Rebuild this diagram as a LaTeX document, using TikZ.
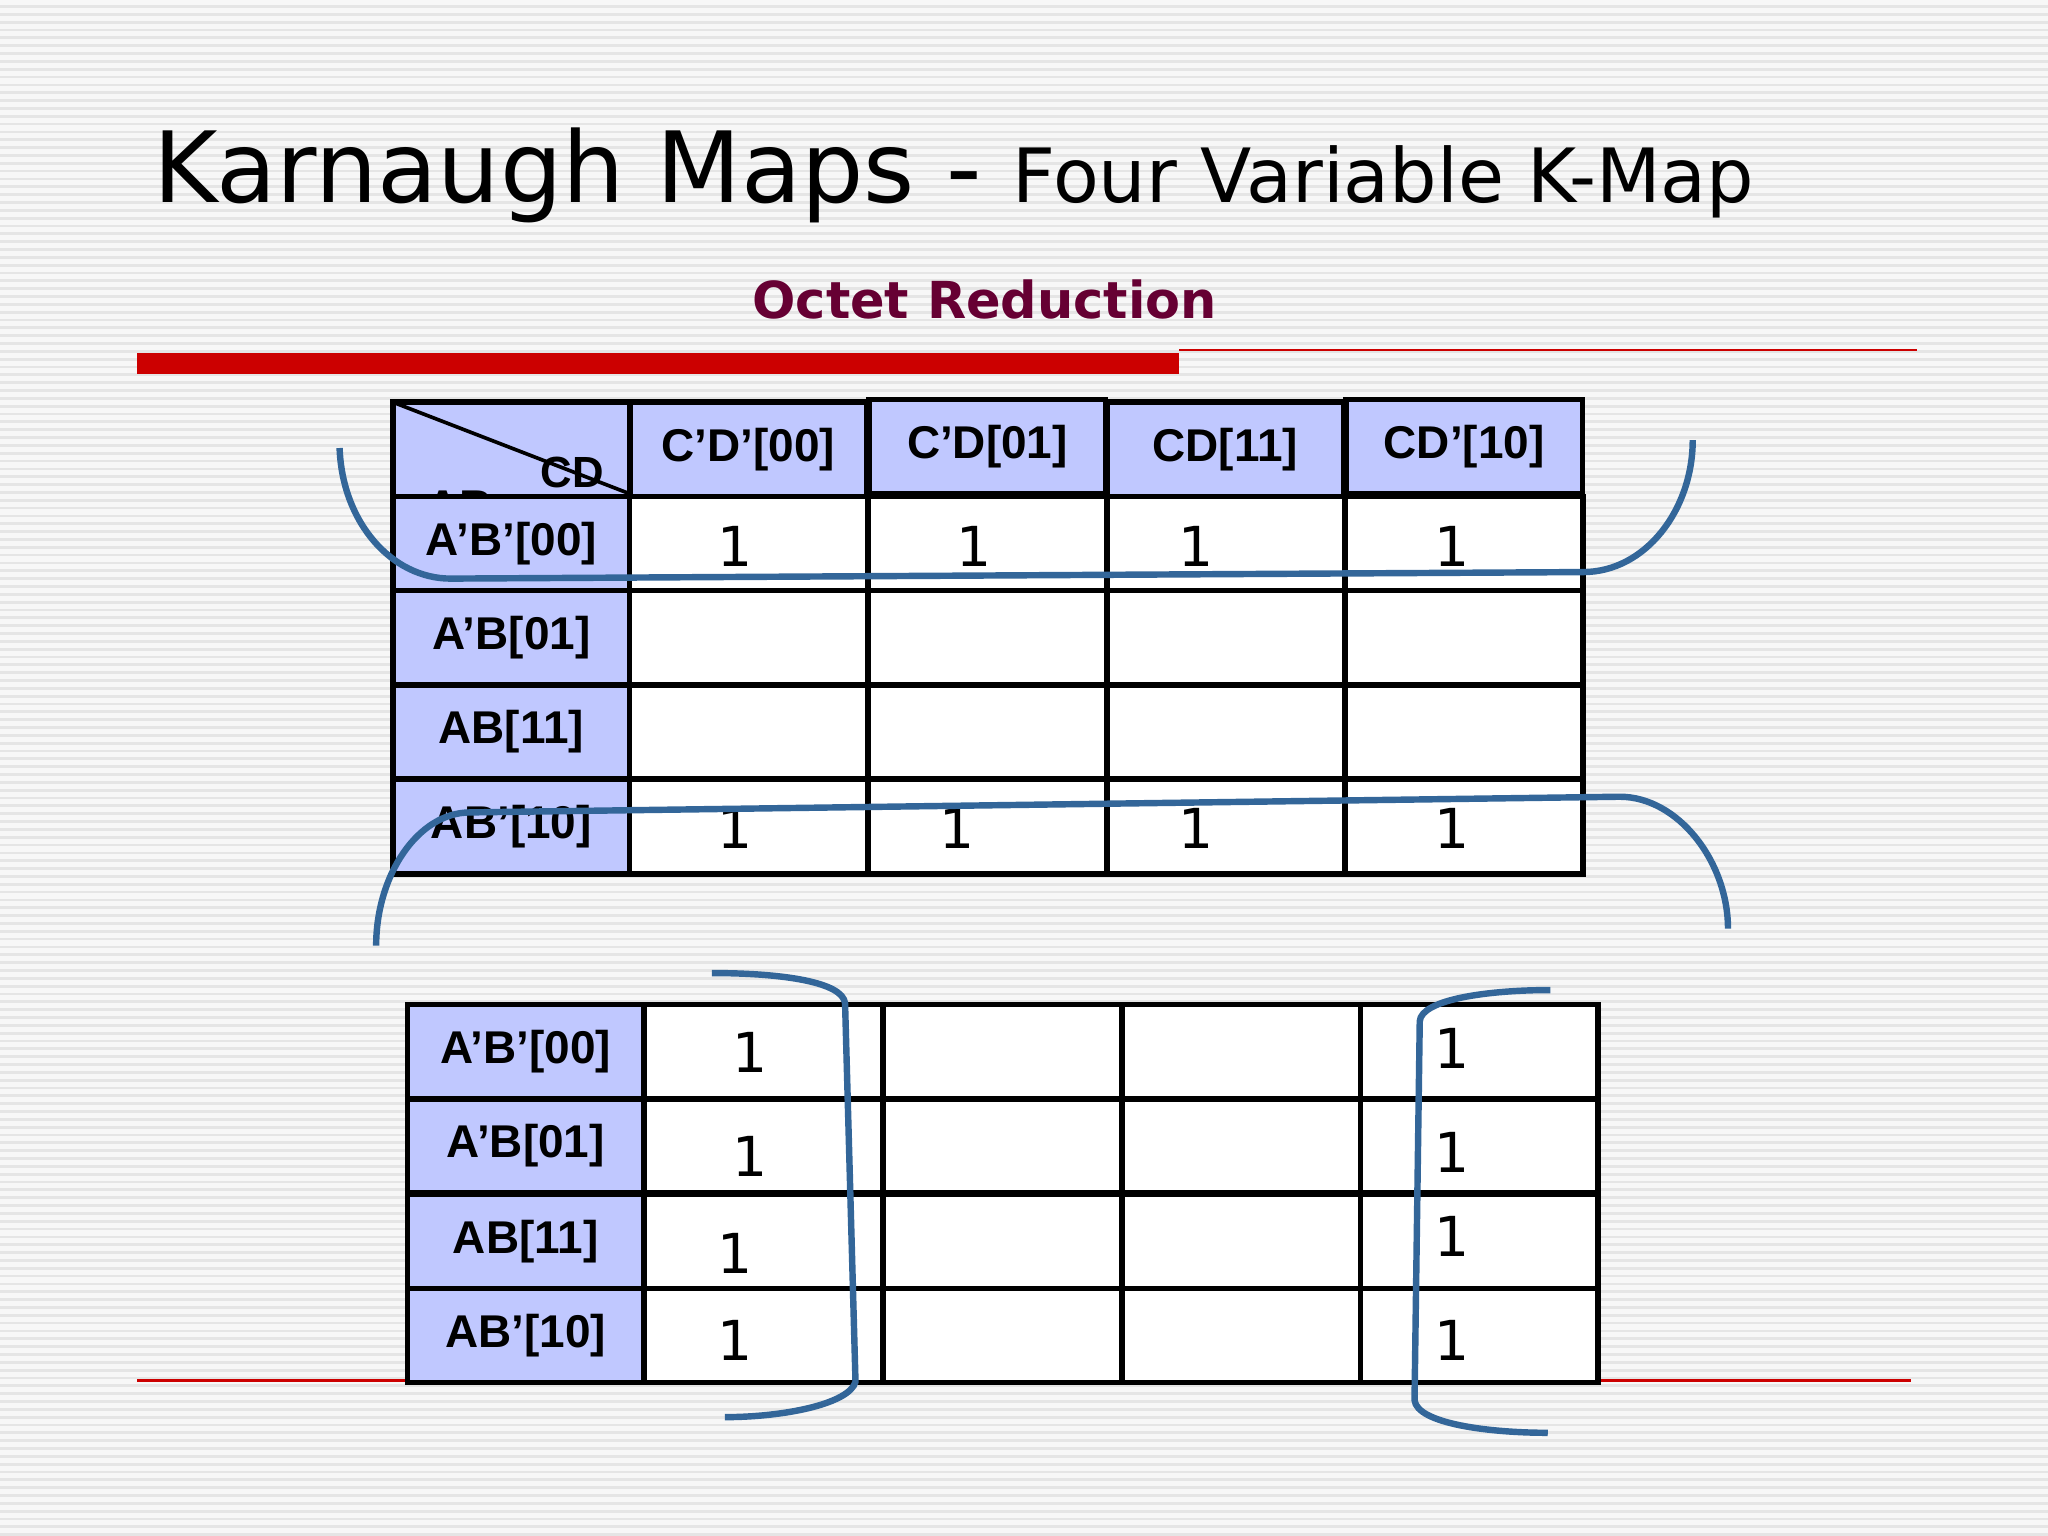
\documentclass[tikz,border=0pt]{standalone}
\usepackage{fontspec}
\setmainfont{DejaVu Sans}
\newfontfamily\arialb{Liberation Sans}[BoldFont={* Bold}]
\definecolor{lav}{RGB}{192,200,255}
\definecolor{maroon}{RGB}{102,0,51}
\definecolor{barred}{RGB}{204,0,0}
\definecolor{curve}{RGB}{51,102,153}
\begin{document}
\begin{tikzpicture}[x=0.01cm,y=-0.01cm,
  lab/.style={draw=black,line width=1.2pt,fill=lav,minimum width=1.81cm,minimum height=0.72cm,inner sep=0pt,font=\arialb\bfseries\fontsize{10}{12}\selectfont},
  cell/.style={draw=black,line width=1.2pt,fill=white,minimum width=1.82cm,minimum height=0.72cm,inner sep=0pt},
  one/.style={font=\fontsize{12}{14}\selectfont,inner sep=0pt},
  grp/.style={draw=curve,line width=1.4pt}]
\useasboundingbox (0,0) rectangle (1568,1176);
\fill[gray!20] (0,0) rectangle (1568,1176);
\foreach \y in {2,8,...,1176} \draw[white!94!gray,line width=1.1pt] (0,\y) -- (1568,\y);
% title
\node[anchor=base west,inner sep=0pt] (title) at (117,155) {\fontsize{21.4}{26}\selectfont Karnaugh Maps - \fontsize{16.3}{19}\selectfont Four Variable K-Map};
\node[inner sep=0pt,text=maroon,font=\bfseries\fontsize{11.1}{14}\selectfont] (sub) at (754,229) {Octet Reduction};
\fill[barred] (105,270) rectangle (903,286);
\draw[barred,line width=0.5pt] (903,268) -- (1468,268);
\draw[barred,line width=0.5pt] (105,1057) -- (1463,1057);
% table 1 header
\node[lab,minimum height=0.72cm] (corner) at (391.5,344) {};
\begin{scope}
\clip (301,308) rectangle (482,380);
\node[font=\arialb\bfseries\fontsize{10}{12}\selectfont] (ab) at (352,388) {AB};
\end{scope}
\draw[line width=0.8pt] (301,308) -- (482,378);
\node[font=\arialb\bfseries\fontsize{9.5}{12}\selectfont,inner sep=0pt] (cd) at (438,362) {CD};
\node[lab] (h1) at (573,344) {C’D’[00]};
\node[lab] (h2) at (756,342) {C’D[01]};
\node[lab] (h3) at (938,344) {CD[11]};
\node[lab] (h4) at (1121,342) {CD’[10]};
\foreach \r/\t/\y in {1/A’B’[00]/416,2/A’B[01]/488,3/AB[11]/560.5,4/AB’[10]/633}{
  \node[lab] (r\r) at (391.5,\y) {\t};
  \foreach \c/\x in {1/573,2/756,3/938.5,4/1121}
    \node[cell] (t\r\c) at (\x,\y) {};
}
\foreach \c/\x in {1/563,2/746,3/916,4/1112} \node[one] (oa\c) at (\x,418) {1};
\foreach \c/\x in {1/563,2/733,3/916,4/1112} \node[one] (ob\c) at (\x,634) {1};
% table 2
\foreach \r/\t/\y in {1/A’B’[00]/805,2/A’B[01]/877.5,3/AB[11]/950.5,4/AB’[10]/1022.5}{
  \node[lab] (s\r) at (402.5,\y) {\t};
  \foreach \c/\x in {1/584.5,2/767.5,3/950.5,4/1132.5}
    \node[cell] (u\r\c) at (\x,\y) {};
}
\node[one] (p1) at (574,806) {1};
\node[one] (p2) at (574,885) {1};
\node[one] (p3) at (563,960) {1};
\node[one] (p4) at (563,1026) {1};
\node[one] (q1) at (1112,803) {1};
\node[one] (q2) at (1112,882) {1};
\node[one] (q3) at (1112,947) {1};
\node[one] (q4) at (1112,1026) {1};
% group curves
\draw[grp] (260,343) .. controls (262,400) and (300,443) .. (345,443) -- (1212,438) .. controls (1260,438) and (1296,390) .. (1296,337);
\draw[grp] (288,724) .. controls (288,670) and (320,622) .. (360,622) -- (1240,610) .. controls (1285,610) and (1323,660) .. (1323,711);
\draw[grp] (545,745) .. controls (600,745) and (645,752) .. (647,768) -- (655,1058) .. controls (650,1075) and (600,1085) .. (555,1085);
\draw[grp] (1187,758) .. controls (1140,758) and (1088,765) .. (1087,782) -- (1083,1072) .. controls (1085,1090) and (1140,1097) .. (1185,1097);
\end{tikzpicture}
\end{document}
